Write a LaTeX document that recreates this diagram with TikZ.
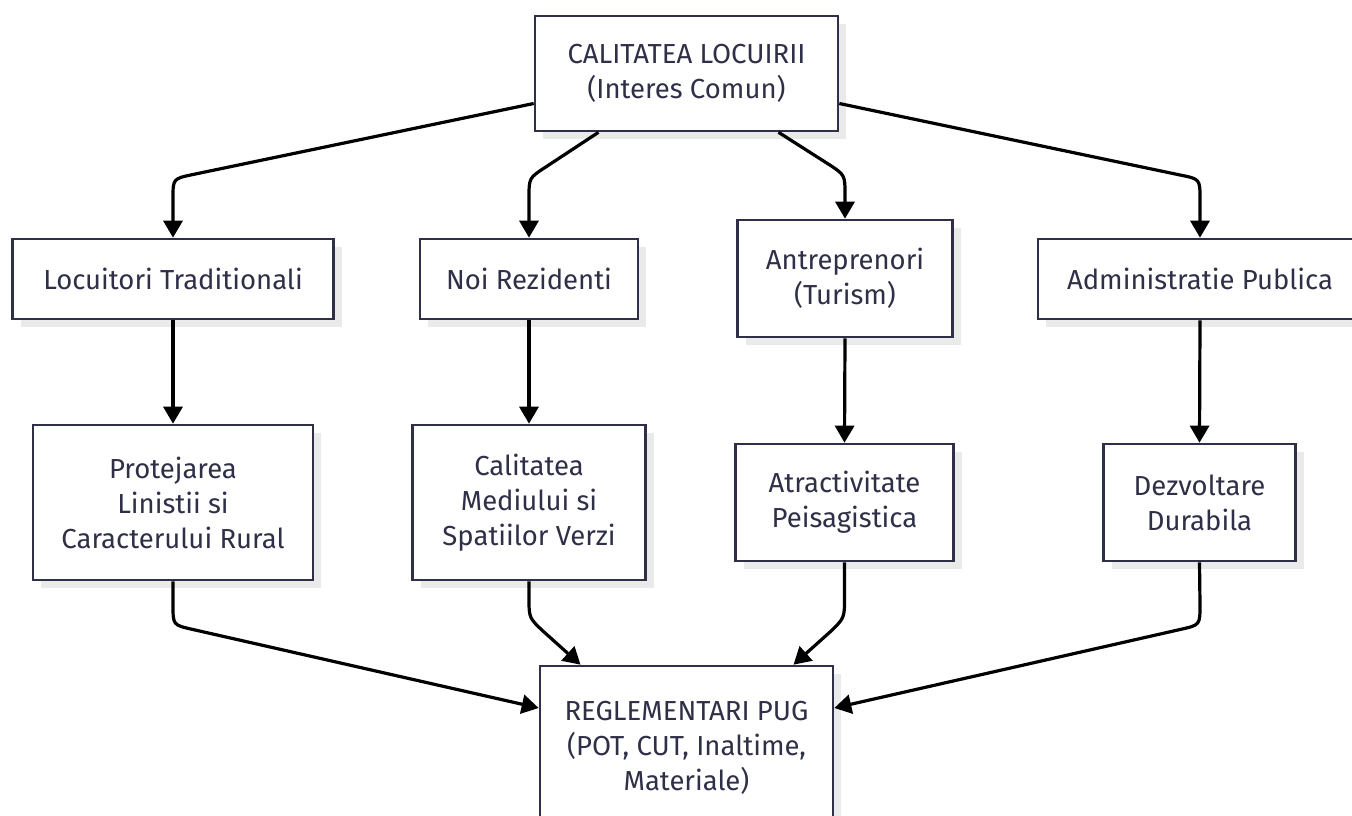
\documentclass[tikz,border=0pt]{standalone}
\usepackage{fontspec}
\setmainfont{Fira Sans}
\usetikzlibrary{arrows.meta}
\definecolor{ink}{HTML}{2F2F47}
\definecolor{shadowc}{HTML}{EAEAEA}
\tikzset{
  box/.style={draw=ink, line width=2.6pt, fill=white, text=ink, align=center,
    font=\fontsize{27.5}{35}\selectfont, inner sep=0pt,
    preaction={fill=shadowc, draw=none, transform canvas={shift={(8pt,-8pt)}}}},
  conn/.style={line width=3.2pt, black, line join=round,
    -{Triangle[length=17pt,width=19pt]}},
}
\begin{document}
\begin{tikzpicture}[x=1pt,y=-1pt]
\useasboundingbox (0,0) rectangle (1352,816);
\fill[white] (0,0) rectangle (1352,816);
% nodes
\node[box, minimum width=303pt, minimum height=115pt] (top) at (686.5,73.5) {CALITATEA LOCUIRII\\(Interes Comun)};
\node[box, minimum width=321pt, minimum height=80pt] (loc) at (173,279) {Locuitori Traditionali};
\node[box, minimum width=218pt, minimum height=80pt] (noi) at (529,279) {Noi Rezidenti};
\node[box, minimum width=215pt, minimum height=117pt] (ant) at (845,278.5) {Antreprenori\\(Turism)};
\node[box, minimum width=324pt, minimum height=80pt] (adm) at (1200,279) {Administratie Publica};
\node[box, minimum width=280pt, minimum height=155pt] (pro) at (173,502.5) {Protejarea\\Linistii si\\Caracterului Rural};
\node[box, minimum width=233pt, minimum height=155pt] (cal) at (529,502.5) {Calitatea\\Mediului si\\Spatiilor Verzi};
\node[box, minimum width=218pt, minimum height=117pt] (atr) at (844.5,502.5) {Atractivitate\\Peisagistica};
\node[box, minimum width=192pt, minimum height=117pt] (dez) at (1199.5,502.5) {Dezvoltare\\Durabila};
\node[box, minimum width=293pt, minimum height=164pt] (bot) at (686.5,748) {REGLEMENTARI PUG\\(POT, CUT, Inaltime,\\Materiale)};
% top to row 1
\draw[conn] ([yshift=-30pt]top.west) -- (193,174.5) .. controls (173,178.7) .. (173,198) -- (loc.north);
\draw[conn] ([xshift=-88pt]top.south) -- (545,167.5) .. controls (529,178) .. (529,198) -- (noi.north);
\draw[conn] ([xshift=92pt]top.south) -- (829,164.5) .. controls (845,175) .. (845,195) -- (ant.north);
\draw[conn] ([yshift=-30pt]top.east) -- (1180,175) .. controls (1200,179) .. (1200,199) -- (adm.north);
% row 1 to row 2
\draw[conn] (loc.south) -- (pro.north);
\draw[conn] (noi.south) -- (cal.north);
\draw[conn] (ant.south) -- (atr.north);
\draw[conn] (adm.south) -- (dez.north);
% row 2 to bottom
\draw[conn] (pro.south) -- (173,605) .. controls (173,625) .. (192.5,629.4) -- ([yshift=40pt]bot.west);
\draw[conn] (cal.south) -- (529,598) .. controls (529,618) .. (544,632) -- ([xshift=-106pt]bot.north);
\draw[conn] (atr.south) -- (844.5,598) .. controls (844.5,618) .. (830,632) -- ([xshift=107pt]bot.north);
\draw[conn] (dez.south) -- (1200,605) .. controls (1200,625) .. (1180.5,629.4) -- ([yshift=40pt]bot.east);
\end{tikzpicture}
\end{document}
